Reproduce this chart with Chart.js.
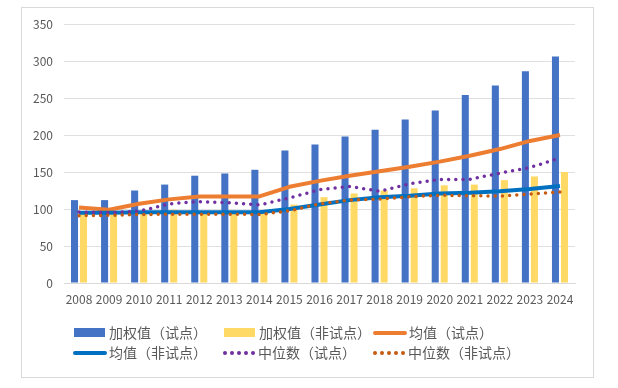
<!DOCTYPE html>
<html>
<head>
<meta charset="utf-8">
<script src="https://cdn.jsdelivr.net/npm/chart.js@4/dist/chart.umd.min.js"></script>
<style>
  html, body { margin: 0; padding: 0; background: #fff; }
  #wrap { position: relative; width: 618px; height: 388px; overflow: hidden; }
  #frame { position: absolute; left: 21px; top: 7px; width: 571px; height: 369px; border: 1px solid #D9D9D9; }
  canvas { position: absolute; left: 0; top: 0; }
  .lg { position: absolute; font-family: "Noto Sans CJK SC", sans-serif; font-size: 14px; color: #595959; line-height: 18px; white-space: nowrap; }
  .mk { position: absolute; }
  .dot { position: absolute; width: 4px; height: 4px; border-radius: 50%; }
</style>
</head>
<body>
<div id="wrap">
  <div id="frame"></div>
  <canvas id="c" width="618" height="388"></canvas>
  <div id="legend"></div>
</div>
<script>
const years = ["2008","2009","2010","2011","2012","2013","2014","2015","2016","2017","2018","2019","2020","2021","2022","2023","2024"];
const weightedPilot    = [112, 112, 125, 133, 145, 148, 153, 179, 187, 198, 207, 221, 233, 254, 267, 286, 306];
const weightedNonPilot = [93, 93, 95, 99, 96, 95, 96, 106, 116, 121, 125, 128, 132, 133, 139, 144, 150];
const meanPilot        = [102, 99, 107, 113, 117, 117, 117, 130, 138, 145, 151, 157, 164, 172, 181, 192, 200];
const meanNonPilot     = [95, 95, 95.5, 95.5, 95.5, 95.5, 95.5, 100, 106, 112, 116, 118, 121, 122, 124, 127, 131];
const medianPilot      = [96, 95, 97, 107, 110, 108.5, 105.5, 115, 126, 130.5, 124, 134, 140, 140, 148.5, 156, 169];
const medianNonPilot   = [91, 91.5, 92.5, 93, 93, 93, 92.5, 97.5, 107, 112, 113.5, 116.5, 118.5, 118, 117.5, 120, 123];
const seriesNames = ["加权值（试点）", "加权值（非试点）", "均值（试点）", "均值（非试点）", "中位数（试点）", "中位数（非试点）"];
const yTicks = [0, 50, 100, 150, 200, 250, 300, 350];

const C_BLUE = "#4472C4", C_YELLOW = "#FFD966", C_ORANGE = "#ED7D31", C_LBLUE = "#0070C0", C_PURPLE = "#7030A0", C_BROWN = "#C55A11";
const FONT = "'Noto Sans CJK SC', sans-serif";

new Chart(document.getElementById("c"), {
  type: "bar",
  data: {
    labels: years,
    datasets: [
      { label: seriesNames[0], data: weightedPilot, backgroundColor: C_BLUE, order: 10, categoryPercentage: 0.6, barPercentage: 0.78 },
      { label: seriesNames[1], data: weightedNonPilot, backgroundColor: C_YELLOW, order: 10, categoryPercentage: 0.6, barPercentage: 0.78 },
      { type: "line", label: seriesNames[2], data: meanPilot, borderColor: C_ORANGE, backgroundColor: C_ORANGE, borderWidth: 4, pointRadius: 0, tension: 0, order: 4, borderJoinStyle: "round" },
      { type: "line", label: seriesNames[3], data: meanNonPilot, borderColor: C_LBLUE, backgroundColor: C_LBLUE, borderWidth: 4, pointRadius: 0, tension: 0, order: 3, borderJoinStyle: "round" },
      { type: "line", label: seriesNames[4], data: medianPilot, borderColor: C_PURPLE, backgroundColor: C_PURPLE, borderWidth: 3.5, borderDash: [0, 7.2], borderCapStyle: "round", pointRadius: 0, tension: 0, order: 2 },
      { type: "line", label: seriesNames[5], data: medianNonPilot, borderColor: C_BROWN, backgroundColor: C_BROWN, borderWidth: 3.5, borderDash: [0, 7.2], borderCapStyle: "round", pointRadius: 0, tension: 0, order: 1 }
    ]
  },
  options: {
    responsive: false,
    animation: false,
    layout: { padding: { top: 24, right: 43, left: 0, bottom: 0 } },
    plugins: { legend: { display: false }, tooltip: { enabled: false } },
    scales: {
      x: {
        grid: { display: false, drawTicks: false },
        border: { display: true, color: "#D9D9D9", width: 1 },
        ticks: { color: "#595959", font: { family: FONT, size: 12 }, padding: 9, maxRotation: 0, autoSkip: false },
        afterFit: (s) => { s.height = 105; }
      },
      y: {
        min: 0, max: 350,
        afterBuildTicks: (s) => { s.ticks = yTicks.map(v => ({ value: v })); },
        grid: { color: "#E0E0E0", drawTicks: false, lineWidth: 1 },
        border: { display: false },
        ticks: { color: "#595959", font: { family: FONT, size: 12 }, padding: 11 },
        afterFit: (s) => { s.width = 64; }
      }
    }
  }
});

// HTML legend in a 3-column grid like the reference
const legend = document.getElementById("legend");
const items = [
  { kind: "box", color: C_BLUE, x: 74, y: 333 },
  { kind: "box", color: C_YELLOW, x: 224, y: 333 },
  { kind: "line", color: C_ORANGE, x: 373, y: 333 },
  { kind: "line", color: C_LBLUE, x: 73, y: 353 },
  { kind: "dots", color: C_PURPLE, x: 223, y: 353 },
  { kind: "dots", color: C_BROWN, x: 373, y: 353 }
];
items.forEach((it, i) => {
  const mk = document.createElement("div");
  mk.className = "mk";
  if (it.kind === "box") {
    mk.style.cssText = `left:${it.x}px;top:${it.y - 5}px;width:31px;height:9px;background:${it.color};`;
  } else if (it.kind === "line") {
    mk.style.cssText = `left:${it.x}px;top:${it.y - 2}px;width:34px;height:4px;border-radius:2px;background:${it.color};`;
  } else {
    mk.style.cssText = `left:${it.x}px;top:${it.y - 2}px;width:32px;height:4px;`;
    for (let k = 0; k < 5; k++) {
      const d = document.createElement("div");
      d.className = "dot";
      d.style.left = (k * 7) + "px";
      d.style.top = "0px";
      d.style.background = it.color;
      mk.appendChild(d);
    }
  }
  legend.appendChild(mk);
  const t = document.createElement("div");
  t.className = "lg";
  t.textContent = seriesNames[i];
  t.style.left = (it.x + (it.kind === "line" ? 36 : 35)) + "px";
  t.style.top = (it.y - 10) + "px";
  legend.appendChild(t);
});
</script>
</body>
</html>
